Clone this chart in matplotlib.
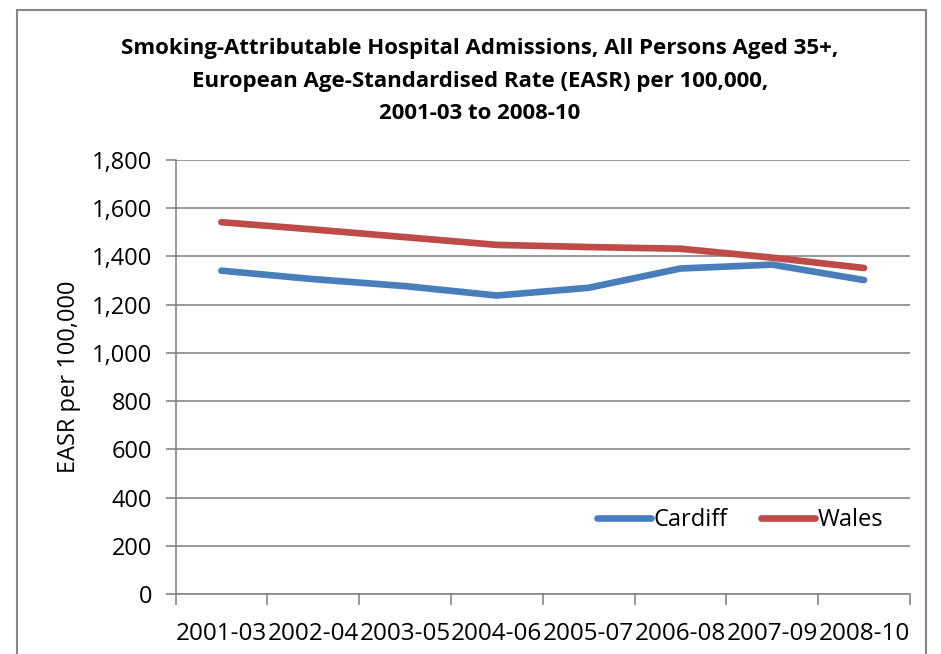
import matplotlib
matplotlib.use("Agg")
import matplotlib.pyplot as plt
from matplotlib import font_manager
from matplotlib.patches import Rectangle

names = {f.name for f in font_manager.fontManager.ttflist}
narrow = "Liberation Sans Narrow" if "Liberation Sans Narrow" in names else "Open Sans"
plt.rcParams["font.family"] = [narrow, "Open Sans", "DejaVu Sans"]

periods = ["2001-03", "2002-04", "2003-05", "2004-06", "2005-07", "2006-08", "2007-09", "2008-10"]
cardiff = [1341, 1306, 1277, 1238, 1270, 1350, 1366, 1302]
wales = [1542, 1512, 1480, 1448, 1439, 1432, 1395, 1352]
y_ticks = [0, 200, 400, 600, 800, 1000, 1200, 1400, 1600, 1800]

blue = "#4A7EBB"
red = "#BE4B48"
grid = "#868686"

fig = plt.figure(figsize=(9.41, 6.54), dpi=100)
W, H = 941, 654
ax = fig.add_axes([175.5 / W, 1 - 594 / H, (910 - 175.5) / W, (594 - 160) / H])

x = list(range(len(periods)))
ax.plot(x, cardiff, color=blue, lw=4.8, solid_capstyle="round", label="Cardiff", zorder=3)
ax.plot(x, wales, color=red, lw=4.8, solid_capstyle="round", label="Wales", zorder=3)

ax.set_xlim(-0.5, len(periods) - 0.5)
ax.set_ylim(0, 1800)
ax.set_yticks(y_ticks)
ax.set_yticklabels([f"{v:,}" for v in y_ticks], fontsize=17)
ax.yaxis.grid(True, color=grid, lw=1.2)
ax.set_axisbelow(True)

# category ticks sit on the boundaries between periods
ax.set_xticks([i - 0.5 for i in range(len(periods) + 1)], minor=False)
ax.set_xticklabels([""] * (len(periods) + 1))
ax.set_xticks(x, minor=True)
ax.set_xticklabels(periods, minor=True, fontsize=17.5)
ax.tick_params(axis="x", which="major", length=8, width=1.2, color=grid, direction="out")
ax.tick_params(axis="x", which="minor", length=0, pad=20)
ax.tick_params(axis="y", length=7, width=1.2, color=grid, direction="out", pad=10)

for side in ["top", "right"]:
    ax.spines[side].set_visible(False)
for side in ["left", "bottom"]:
    ax.spines[side].set_color(grid)
    ax.spines[side].set_linewidth(1.2)

ax.set_ylabel("EASR per 100,000", fontsize=17, labelpad=8)

leg = ax.legend(loc="lower right", bbox_to_anchor=(0.992, 0.093), ncol=2, frameon=False,
                fontsize=17, handlelength=2.3, handletextpad=0.1, columnspacing=1.4)

fig.text(480 / W, 1 - 81 / H,
         "Smoking-Attributable Hospital Admissions, All Persons Aged 35+,\n"
         "European Age-Standardised Rate (EASR) per 100,000,\n"
         "2001-03 to 2008-10",
         ha="center", va="center", fontsize=16, fontweight="bold", linespacing=1.7)

fig.patches.append(Rectangle((17 / W, -0.05), (926 - 17) / W, 1 - 10 / H + 0.05,
                             transform=fig.transFigure, fill=False, edgecolor=grid, lw=1.5))

fig.savefig("out.png", dpi=100)
